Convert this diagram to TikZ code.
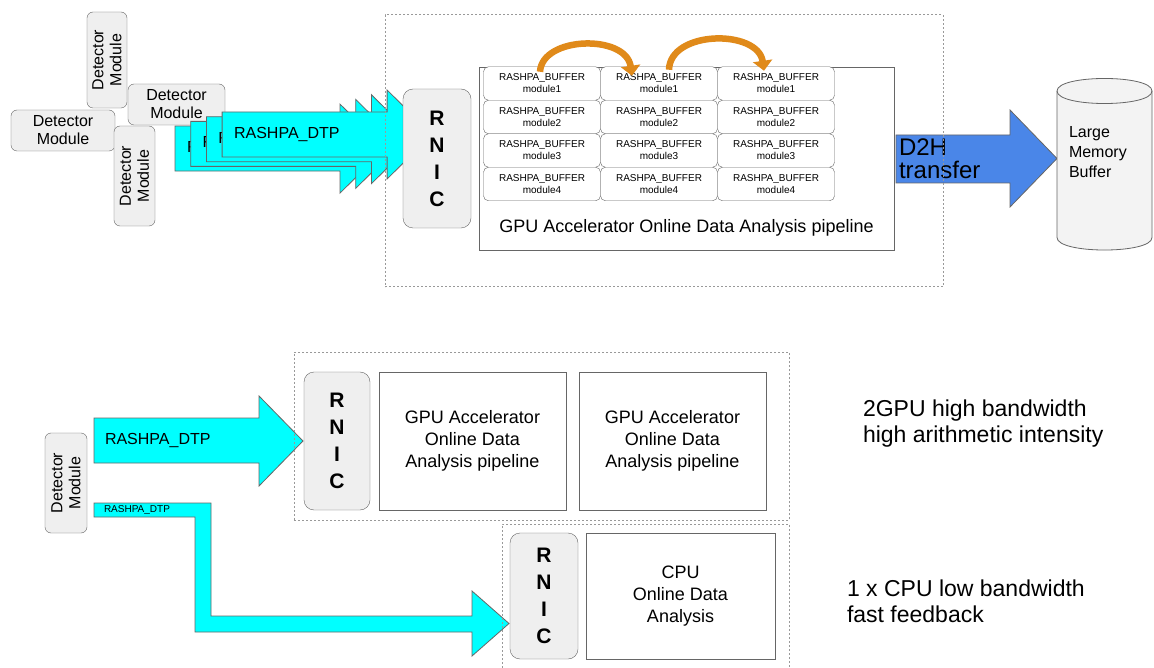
\documentclass[tikz,border=0pt]{standalone}
\usepackage{fontspec}
\setmainfont{Liberation Sans}
\usepackage{tikz}
\usetikzlibrary{arrows.meta}

\definecolor{boxgray}{HTML}{666666}
\definecolor{modfill}{HTML}{EFEFEF}
\definecolor{dtpcyan}{HTML}{00FFFF}
\definecolor{d2hblue}{HTML}{4A86E8}
\definecolor{hoporange}{HTML}{E08A1A}
\definecolor{framegray}{HTML}{999999}
\definecolor{cylfill}{HTML}{F3F3F3}

\begin{document}
\begin{tikzpicture}[
		x=1pt, y=-1pt,
		every node/.style={inner sep=0pt, outer sep=0pt},
		module/.style={rectangle, rounded corners=6pt, draw=boxgray, fill=modfill, align=center, font=\fontsize{16}{18}\selectfont},
		rnic/.style={rectangle, rounded corners=10pt, draw=boxgray, fill=modfill, align=center, font=\fontsize{21}{27}\selectfont\bfseries},
		plainbox/.style={rectangle, draw=boxgray, fill=white, align=center, font=\fontsize{18}{22}\selectfont},
		cell/.style={rectangle, rounded corners=5pt, draw=boxgray, fill=white, minimum width=117pt, minimum height=33.5pt, align=center, font=\fontsize{10}{12}\selectfont},
		dtparrow/.style={draw=boxgray, fill=dtpcyan, line width=0.8pt},
		d2harrow/.style={draw=boxgray, fill=d2hblue, line width=0.8pt},
		hop/.style={draw=hoporange, line width=6.5pt, -{Triangle[length=10pt,width=19pt]}},
		groupframe/.style={draw=framegray, dash pattern=on 2pt off 2pt, line width=1pt},
		note/.style={align=left, font=\fontsize{23}{26}\selectfont}
	]
  \useasboundingbox (0,0) rectangle (1154,668);
  \fill[white] (0,0) rectangle (1154,668);

  % top: four detector modules
  \node (dm_a) [module, rotate=90, minimum width=96pt, minimum height=40pt] at (107,60) {Detector\\Module};
  \node (dm_b) [module, minimum width=104pt, minimum height=41pt] at (63,130.5) {Detector\\Module};
  \node (dm_c) [module, minimum width=97pt, minimum height=41pt] at (176.5,104.5) {Detector\\Module};
  \node (dm_d) [module, rotate=90, minimum width=100pt, minimum height=41pt] at (134.5,176) {Detector\\Module};

  % stacked RASHPA_DTP streams
  \foreach \i in {0,...,3} {
    \pgfmathsetmacro{\xl}{175+15.7*\i}
    \pgfmathsetmacro{\xb}{340+15.7*\i}
    \pgfmathsetmacro{\xt}{385+15.7*\i}
    \pgfmathsetmacro{\yc}{148.6-4.7*\i}
    \filldraw[dtparrow] (\xl,\yc-22.5) -- (\xb,\yc-22.5) -- (\xb,\yc-44.5) -- (\xt,\yc)
      -- (\xb,\yc+44.5) -- (\xb,\yc+22.5) -- (\xl,\yc+22.5) -- cycle;
    \node (dtp\i) [anchor=west, font=\fontsize{16}{18}\selectfont] at (\xl+12,\yc) {RASHPA\_DTP};
  }

  \node (rnic_top) [rnic, minimum width=68pt, minimum height=139pt] at (437,158.5) {R\\N\\I\\C};

  % GPU pipeline with buffers
  \node (gpu) [plainbox, minimum width=415pt, minimum height=183pt] at (686.5,158.5) {};
  \foreach \c in {1,2,3} {
    \foreach \r in {1,...,4} {
      \node (cell-\c-\r) [cell] at ({542+117*(\c-1)},{83.5+33.5*(\r-1)}) {RASHPA\_BUFFER\\module\r};
    }
  }
  \node (gpu_label) [font=\fontsize{18}{22}\selectfont] at (686.5,228) {GPU Accelerator Online Data Analysis pipeline};

  \draw[hop] ([xshift=-2pt,yshift=-5pt]cell-1-1.north) .. controls (542,36) and (626,34) .. ([xshift=-27pt,yshift=-9pt]cell-2-1.north);
  \draw[hop] ([xshift=10pt,yshift=-3pt]cell-2-1.north) .. controls (670,30) and (758,29) .. ([xshift=-12pt,yshift=-4pt]cell-3-1.north);

  % device to host
  \filldraw[d2harrow] (896,135) -- (1010,135) -- (1010,110) -- (1057,158.5) -- (1010,207)
    -- (1010,183) -- (896,183) -- cycle;
  \node (d2h) [anchor=north west, align=left, font=\fontsize{24}{23}\selectfont] at (899,139) {D2H\\transfer};

  % large memory buffer
  \filldraw[draw=boxgray, fill=cylfill, line width=0.8pt] (1057,91) -- (1057,237.5)
    .. controls (1057,254.2) and (1152,254.2) .. (1152,237.5) -- (1152,91)
    .. controls (1152,74.3) and (1057,74.3) .. (1057,91) -- cycle;
  \draw[draw=boxgray, line width=0.8pt] (1057,91) .. controls (1057,107.7) and (1152,107.7) .. (1152,91);
  \node (mem) [anchor=north west, align=left, font=\fontsize{16}{20}\selectfont] at (1069,126.5) {Large\\Memory\\Buffer};

  \node (topgroup) [groupframe, minimum width=558pt, minimum height=272pt] at (664,151) {};

  % bottom: single module, two paths
  \node (dm_e) [module, rotate=90, minimum width=100pt, minimum height=42pt] at (66,483) {Detector\\Module};

  \filldraw[dtparrow] (94,418) -- (259,418) -- (259,396) -- (303,441) -- (259,486) -- (259,463) -- (94,463) -- cycle;
  \node (dtp_gpu) [anchor=west, font=\fontsize{16}{18}\selectfont] at (105,441) {RASHPA\_DTP};

  \filldraw[dtparrow] (94,503) -- (211,503) -- (211,616) -- (472,616) -- (472,591) -- (509,623.5)
    -- (472,656) -- (472,632) -- (195,632) -- (195,517) -- (94,517) -- cycle;
  \node (dtp_cpu) [anchor=west, font=\fontsize{10}{12}\selectfont] at (104,510) {RASHPA\_DTP};

  \node (rnic_gpu) [rnic, minimum width=66pt, minimum height=138pt] at (337,441) {R\\N\\I\\C};
  \node (gpu_a) [plainbox, minimum width=187pt, minimum height=138pt] at (472.5,441) {GPU Accelerator\\Online Data\\Analysis pipeline};
  \node (gpu_b) [plainbox, minimum width=187pt, minimum height=138pt] at (672.5,441) {GPU Accelerator\\Online Data\\Analysis pipeline};

  \node (rnic_cpu) [rnic, minimum width=68pt, minimum height=126pt] at (544,596) {R\\N\\I\\C};
  \node (cpu) [plainbox, minimum width=189pt, minimum height=126pt] at (680.5,596) {CPU\\Online Data\\Analysis};

  \node (gpugroup) [groupframe, minimum width=495pt, minimum height=168pt] at (541.5,436) {};
  \draw[groupframe] (502,668) |- (789,524) -- (789,668);

  \node (gpu_note) [note, anchor=north west] at (863,400) {2GPU high bandwidth\\high arithmetic intensity};
  \node (cpu_note) [note, anchor=north west] at (847,580) {1 x CPU low bandwidth\\fast feedback};
\end{tikzpicture}
\end{document}
